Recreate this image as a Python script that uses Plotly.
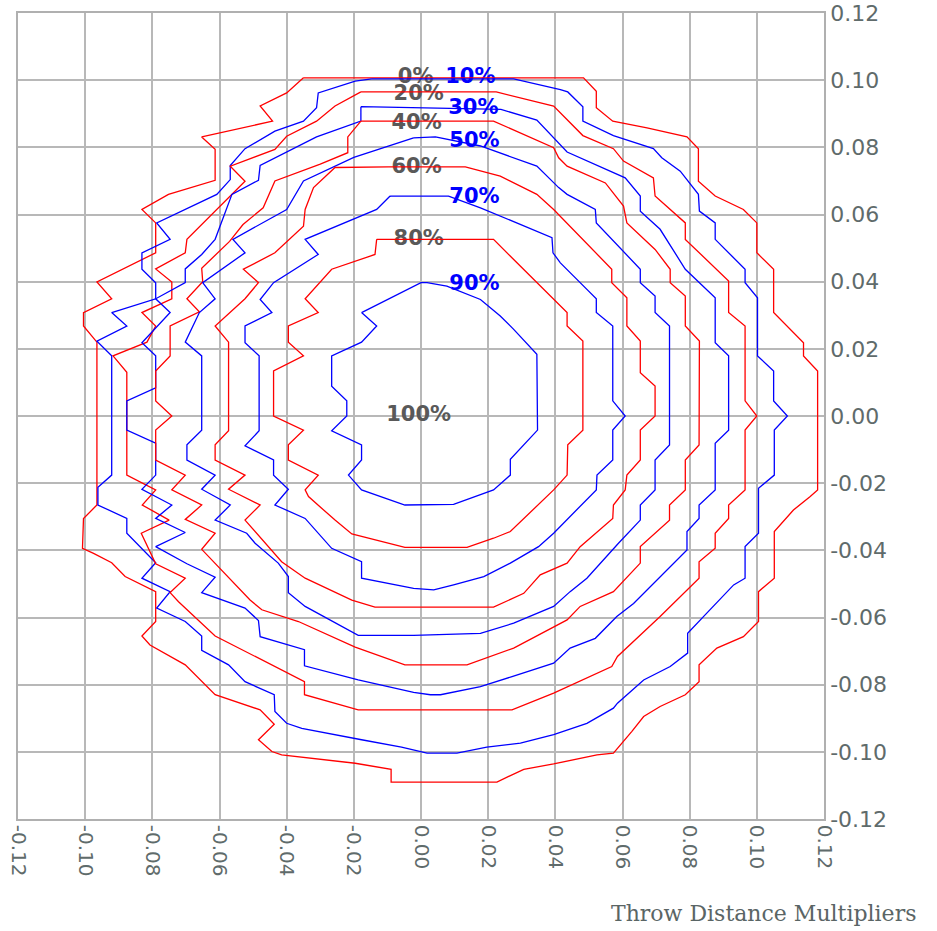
import plotly.graph_objects as go

# ---- contour polylines (data units) ----
c00 = [(-0.0350,0.1007),(0.0484,0.1007),(0.0522,0.0967),(0.0522,0.0918),(0.0571,0.0878),(0.0673,0.0858),(0.0792,0.0831),(0.0826,0.0796),(0.0826,0.0699),(0.0876,0.0655),(0.0960,0.0615),(0.1000,0.0575),(0.1000,0.0486),(0.1050,0.0437),(0.1050,0.0308),(0.1139,0.0218),(0.1139,0.0179),(0.1181,0.0134),(0.1181,-0.0220),(0.1159,-0.0240),(0.1109,-0.0280),(0.1052,-0.0344),(0.1052,-0.0483),(0.1005,-0.0523),(0.1005,-0.0612),(0.0960,-0.0657),(0.0881,-0.0691),(0.0828,-0.0741),(0.0828,-0.0791),(0.0787,-0.0830),(0.0712,-0.0865),(0.0663,-0.0895),(0.0628,-0.0939),(0.0573,-0.1004),(0.0524,-0.1009),(0.0395,-0.1036),(0.0306,-0.1052),(0.0226,-0.1090),(-0.0089,-0.1090),(-0.0089,-0.1052),(-0.0196,-0.1034),(-0.0415,-0.1009),(-0.0444,-0.0999),(-0.0484,-0.0964),(-0.0437,-0.0918),(-0.0479,-0.0875),(-0.0613,-0.0830),(-0.0702,-0.0741),(-0.0807,-0.0682),(-0.0831,-0.0655),(-0.0790,-0.0612),(-0.0790,-0.0523),(-0.0881,-0.0478),(-0.0901,-0.0458),(-0.0921,-0.0437),(-0.0975,-0.0409),(-0.1008,-0.0394),(-0.1005,-0.0305),(-0.0965,-0.0265),(-0.0965,0.0220),(-0.1005,0.0268),(-0.1005,0.0308),(-0.0921,0.0349),(-0.0965,0.0399),(-0.0790,0.0486),(-0.0790,0.0575),(-0.0831,0.0615),(-0.0752,0.0660),(-0.0613,0.0702),(-0.0613,0.0794),(-0.0653,0.0831),(-0.0442,0.0878),(-0.0479,0.0923),(-0.0400,0.0962),(-0.0350,0.1007)]

c10 = [(-0.0147,0.1004),(0.0276,0.1004),(0.0415,0.0972),(0.0437,0.0965),(0.0482,0.0921),(0.0482,0.0878),(0.0573,0.0835),(0.0692,0.0796),(0.0717,0.0769),(0.0772,0.0729),(0.0826,0.0660),(0.0829,0.0610),(0.0876,0.0575),(0.0876,0.0526),(0.0965,0.0437),(0.0965,0.0397),(0.1002,0.0352),(0.1002,0.0179),(0.1050,0.0134),(0.1050,0.0045),(0.1091,0.0000),(0.1052,-0.0042),(0.1052,-0.0176),(0.1005,-0.0215),(0.1005,-0.0349),(0.0965,-0.0389),(0.0965,-0.0483),(0.0931,-0.0503),(0.0851,-0.0587),(0.0794,-0.0647),(0.0794,-0.0706),(0.0742,-0.0746),(0.0663,-0.0786),(0.0585,-0.0855),(0.0573,-0.0870),(0.0494,-0.0915),(0.0395,-0.0949),(0.0296,-0.0974),(0.0196,-0.0986),(0.0107,-0.1004),(0.0018,-0.1004),(-0.0058,-0.0986),(-0.0177,-0.0964),(-0.0355,-0.0930),(-0.0400,-0.0915),(-0.0435,-0.0880),(-0.0437,-0.0830),(-0.0524,-0.0791),(-0.0573,-0.0741),(-0.0653,-0.0698),(-0.0653,-0.0655),(-0.0702,-0.0612),(-0.0787,-0.0572),(-0.0747,-0.0523),(-0.0831,-0.0483),(-0.0790,-0.0437),(-0.0876,-0.0349),(-0.0876,-0.0305),(-0.0962,-0.0265),(-0.0962,-0.0212),(-0.0921,-0.0176),(-0.0921,0.0179),(-0.0965,0.0223),(-0.0876,0.0268),(-0.0921,0.0308),(-0.0790,0.0349),(-0.0790,0.0397),(-0.0831,0.0437),(-0.0831,0.0486),(-0.0747,0.0526),(-0.0787,0.0575),(-0.0608,0.0660),(-0.0568,0.0704),(-0.0568,0.0746),(-0.0524,0.0796),(-0.0435,0.0848),(-0.0350,0.0878),(-0.0311,0.0918),(-0.0306,0.0962),(-0.0196,0.0997),(-0.0147,0.1004)]

c20 = [(-0.0179,0.0965),(0.0224,0.0965),(0.0395,0.0923),(0.0435,0.0883),(0.0482,0.0835),(0.0573,0.0796),(0.0603,0.0759),(0.0692,0.0709),(0.0697,0.0655),(0.0787,0.0575),(0.0787,0.0526),(0.0916,0.0402),(0.0916,0.0308),(0.0965,0.0268),(0.0965,0.0045),(0.1000,0.0000),(0.0965,-0.0042),(0.0965,-0.0220),(0.0916,-0.0265),(0.0916,-0.0305),(0.0876,-0.0349),(0.0876,-0.0394),(0.0828,-0.0434),(0.0828,-0.0483),(0.0712,-0.0597),(0.0585,-0.0716),(0.0568,-0.0746),(0.0395,-0.0825),(0.0271,-0.0875),(-0.0187,-0.0875),(-0.0347,-0.0830),(-0.0347,-0.0791),(-0.0435,-0.0746),(-0.0613,-0.0655),(-0.0722,-0.0553),(-0.0747,-0.0526),(-0.0702,-0.0483),(-0.0790,-0.0440),(-0.0833,-0.0349),(-0.0750,-0.0310),(-0.0830,-0.0265),(-0.0790,-0.0220),(-0.0876,-0.0176),(-0.0876,0.0130),(-0.0917,0.0179),(-0.0816,0.0220),(-0.0790,0.0268),(-0.0831,0.0308),(-0.0742,0.0349),(-0.0742,0.0399),(-0.0790,0.0438),(-0.0702,0.0486),(-0.0697,0.0526),(-0.0608,0.0615),(-0.0524,0.0699),(-0.0568,0.0744),(-0.0435,0.0794),(-0.0400,0.0833),(-0.0311,0.0878),(-0.0256,0.0923),(-0.0179,0.0965)]

c30 = [(-0.0179,0.0921),(0.0238,0.0913),(0.0345,0.0881),(0.0435,0.0786),(0.0608,0.0709),(0.0653,0.0655),(0.0653,0.0610),(0.0712,0.0556),(0.0787,0.0437),(0.0876,0.0352),(0.0876,0.0218),(0.0916,0.0179),(0.0916,-0.0042),(0.0876,-0.0081),(0.0876,-0.0220),(0.0828,-0.0265),(0.0828,-0.0305),(0.0792,-0.0344),(0.0792,-0.0399),(0.0712,-0.0478),(0.0633,-0.0558),(0.0583,-0.0597),(0.0519,-0.0662),(0.0444,-0.0691),(0.0395,-0.0736),(0.0271,-0.0776),(0.0177,-0.0806),(0.0058,-0.0830),(0.0028,-0.0830),(-0.0022,-0.0823),(-0.0187,-0.0786),(-0.0347,-0.0744),(-0.0347,-0.0696),(-0.0479,-0.0657),(-0.0484,-0.0609),(-0.0524,-0.0572),(-0.0653,-0.0526),(-0.0613,-0.0480),(-0.0697,-0.0440),(-0.0790,-0.0389),(-0.0702,-0.0347),(-0.0790,-0.0305),(-0.0742,-0.0265),(-0.0831,-0.0218),(-0.0790,-0.0176),(-0.0790,-0.0081),(-0.0876,-0.0042),(-0.0876,0.0045),(-0.0790,0.0084),(-0.0790,0.0179),(-0.0831,0.0218),(-0.0747,0.0308),(-0.0790,0.0349),(-0.0702,0.0397),(-0.0702,0.0438),(-0.0653,0.0481),(-0.0613,0.0526),(-0.0563,0.0660),(-0.0484,0.0702),(-0.0479,0.0746),(-0.0311,0.0831),(-0.0179,0.0878),(-0.0179,0.0921)]

c40 = [(-0.0179,0.0878),(0.0216,0.0878),(0.0395,0.0799),(0.0410,0.0769),(0.0435,0.0744),(0.0549,0.0694),(0.0603,0.0625),(0.0613,0.0575),(0.0697,0.0496),(0.0742,0.0437),(0.0742,0.0397),(0.0787,0.0357),(0.0787,0.0268),(0.0829,0.0223),(0.0828,-0.0086),(0.0787,-0.0131),(0.0787,-0.0220),(0.0740,-0.0265),(0.0740,-0.0310),(0.0653,-0.0389),(0.0653,-0.0438),(0.0573,-0.0523),(0.0474,-0.0567),(0.0435,-0.0607),(0.0276,-0.0691),(0.0137,-0.0741),(-0.0048,-0.0741),(-0.0196,-0.0688),(-0.0365,-0.0612),(-0.0474,-0.0577),(-0.0509,-0.0548),(-0.0598,-0.0453),(-0.0653,-0.0397),(-0.0613,-0.0349),(-0.0702,-0.0308),(-0.0653,-0.0265),(-0.0742,-0.0220),(-0.0702,-0.0176),(-0.0790,-0.0131),(-0.0790,-0.0042),(-0.0742,0.0000),(-0.0790,0.0045),(-0.0790,0.0134),(-0.0747,0.0179),(-0.0747,0.0268),(-0.0660,0.0310),(-0.0697,0.0349),(-0.0650,0.0400),(-0.0653,0.0440),(-0.0570,0.0520),(-0.0530,0.0570),(-0.0470,0.0620),(-0.0435,0.0700),(-0.0300,0.0750),(-0.0218,0.0784),(-0.0218,0.0831),(-0.0179,0.0878)]

c50 = [(-0.0022,0.0828),(0.0043,0.0831),(0.0177,0.0804),(0.0345,0.0744),(0.0410,0.0680),(0.0435,0.0660),(0.0519,0.0615),(0.0522,0.0575),(0.0653,0.0437),(0.0653,0.0397),(0.0697,0.0357),(0.0697,0.0308),(0.0740,0.0268),(0.0740,-0.0086),(0.0697,-0.0131),(0.0697,-0.0220),(0.0653,-0.0265),(0.0653,-0.0310),(0.0588,-0.0379),(0.0494,-0.0483),(0.0444,-0.0523),(0.0395,-0.0567),(0.0276,-0.0617),(0.0177,-0.0647),(-0.0022,-0.0653),(-0.0187,-0.0653),(-0.0345,-0.0567),(-0.0395,-0.0526),(-0.0395,-0.0478),(-0.0425,-0.0438),(-0.0494,-0.0379),(-0.0519,-0.0349),(-0.0613,-0.0310),(-0.0568,-0.0265),(-0.0653,-0.0218),(-0.0613,-0.0176),(-0.0697,-0.0131),(-0.0697,-0.0086),(-0.0653,-0.0042),(-0.0653,0.0179),(-0.0702,0.0220),(-0.0660,0.0308),(-0.0613,0.0349),(-0.0650,0.0397),(-0.0524,0.0486),(-0.0560,0.0526),(-0.0400,0.0615),(-0.0350,0.0700),(-0.0200,0.0770),(-0.0022,0.0828)]

c60 = [(-0.0097,0.0742),(0.0132,0.0742),(0.0236,0.0714),(0.0345,0.0660),(0.0395,0.0615),(0.0568,0.0437),(0.0568,0.0397),(0.0613,0.0352),(0.0613,0.0268),(0.0653,0.0223),(0.0653,0.0129),(0.0697,0.0089),(0.0697,0.0000),(0.0653,-0.0042),(0.0653,-0.0131),(0.0613,-0.0176),(0.0608,-0.0220),(0.0573,-0.0265),(0.0571,-0.0305),(0.0474,-0.0389),(0.0435,-0.0438),(0.0355,-0.0473),(0.0306,-0.0528),(0.0216,-0.0569),(-0.0137,-0.0569),(-0.0206,-0.0548),(-0.0345,-0.0483),(-0.0415,-0.0434),(-0.0524,-0.0310),(-0.0479,-0.0265),(-0.0573,-0.0218),(-0.0524,-0.0176),(-0.0613,-0.0131),(-0.0613,-0.0086),(-0.0573,-0.0044),(-0.0573,0.0220),(-0.0613,0.0268),(-0.0524,0.0349),(-0.0484,0.0397),(-0.0529,0.0437),(-0.0435,0.0486),(-0.0350,0.0565),(-0.0345,0.0615),(-0.0320,0.0680),(-0.0256,0.0740),(-0.0097,0.0742)]

c70 = [(-0.0092,0.0655),(0.0082,0.0655),(0.0177,0.0620),(0.0390,0.0531),(0.0393,0.0486),(0.0415,0.0456),(0.0494,0.0377),(0.0522,0.0349),(0.0522,0.0308),(0.0571,0.0268),(0.0571,0.0045),(0.0608,0.0000),(0.0571,-0.0042),(0.0571,-0.0131),(0.0524,-0.0176),(0.0522,-0.0220),(0.0395,-0.0349),(0.0350,-0.0389),(0.0266,-0.0438),(0.0187,-0.0478),(0.0097,-0.0503),(0.0038,-0.0518),(-0.0022,-0.0513),(-0.0177,-0.0483),(-0.0177,-0.0434),(-0.0266,-0.0394),(-0.0345,-0.0305),(-0.0435,-0.0265),(-0.0395,-0.0218),(-0.0439,-0.0176),(-0.0439,-0.0131),(-0.0524,-0.0089),(-0.0482,-0.0044),(-0.0482,0.0179),(-0.0524,0.0218),(-0.0524,0.0268),(-0.0444,0.0308),(-0.0479,0.0347),(-0.0439,0.0397),(-0.0306,0.0481),(-0.0345,0.0526),(-0.0132,0.0615),(-0.0092,0.0655)]

c80 = [(-0.0132,0.0526),(0.0216,0.0526),(0.0276,0.0466),(0.0435,0.0308),(0.0435,0.0268),(0.0482,0.0223),(0.0482,-0.0042),(0.0437,-0.0086),(0.0435,-0.0176),(0.0395,-0.0220),(0.0266,-0.0344),(0.0216,-0.0364),(0.0137,-0.0391),(-0.0048,-0.0391),(-0.0206,-0.0351),(-0.0256,-0.0310),(-0.0335,-0.0240),(-0.0345,-0.0220),(-0.0306,-0.0176),(-0.0395,-0.0131),(-0.0395,-0.0086),(-0.0350,-0.0042),(-0.0439,0.0000),(-0.0439,0.0134),(-0.0350,0.0179),(-0.0395,0.0220),(-0.0395,0.0268),(-0.0306,0.0308),(-0.0345,0.0349),(-0.0266,0.0437),(-0.0137,0.0481),(-0.0132,0.0526)]

c90 = [(-0.0177,0.0308),(0.0000,0.0397),(0.0018,0.0397),(0.0077,0.0387),(0.0177,0.0347),(0.0236,0.0298),(0.0276,0.0258),(0.0345,0.0184),(0.0347,-0.0042),(0.0320,-0.0071),(0.0266,-0.0129),(0.0266,-0.0176),(0.0216,-0.0220),(0.0097,-0.0263),(-0.0048,-0.0265),(-0.0177,-0.0220),(-0.0216,-0.0176),(-0.0177,-0.0131),(-0.0177,-0.0086),(-0.0266,-0.0044),(-0.0221,0.0000),(-0.0221,0.0045),(-0.0266,0.0089),(-0.0266,0.0179),(-0.0177,0.0220),(-0.0132,0.0268),(-0.0177,0.0308)]

contours = [c00, c10, c20, c30, c40, c50, c60, c70, c80, c90]
line_colors = ["#ff0000", "#0000ff"] * 5

# ---- contour labels ----
label_text = ["0%", "10%", "20%", "30%", "40%", "50%", "60%", "70%", "80%", "90%", "100%"]
label_x = [-0.0016, 0.0147, -0.0007, 0.0156, -0.0013, 0.0159, -0.0013, 0.0159, -0.0007, 0.0159, -0.0007]
label_y = [0.1008, 0.1008, 0.0958, 0.0914, 0.0871, 0.0818, 0.0740, 0.0651, 0.0526, 0.0392, 0.0000]
label_colors = ["#595959", "#0000ff"] * 5 + ["#595959"]

tick_vals = [-0.12, -0.10, -0.08, -0.06, -0.04, -0.02, 0.0, 0.02, 0.04, 0.06, 0.08, 0.10, 0.12]
tick_text = ["%.2f" % v for v in tick_vals]

fig = go.Figure()

# labels first so the contour lines are drawn over them
fig.add_trace(go.Scatter(x=label_x, y=label_y, mode="text", text=label_text,
                         textposition="middle center",
                         textfont=dict(family="DejaVu Sans", size=21, color=label_colors, weight="bold"),
                         hoverinfo="skip", showlegend=False))

for pts, col in zip(contours, line_colors):
    xs = [p[0] for p in pts]
    ys = [p[1] for p in pts]
    fig.add_trace(go.Scatter(x=xs, y=ys, mode="lines", line=dict(color=col, width=1.3),
                             hoverinfo="skip", showlegend=False))

fig.add_annotation(x=1.1166, y=-0.1175, xref="paper", yref="paper", text="Throw Distance Multipliers",
                   showarrow=False, xanchor="right", yanchor="middle",
                   font=dict(family="DejaVu Serif", size=22, color="#5a6565"))

axis_common = dict(range=[-0.12, 0.12], tickvals=tick_vals, ticktext=tick_text, automargin=False,
                   showgrid=True, gridcolor="#b8b8b8", gridwidth=1.5, zeroline=False,
                   showline=True, linecolor="#b0b0b0", linewidth=1.5, mirror=True, ticks="",
                   ticklabeloverflow="allow")

fig.update_layout(
    width=937, height=931,
    margin=dict(l=18, r=113, t=13, b=112),
    paper_bgcolor="white", plot_bgcolor="white",
    xaxis=dict(**axis_common, tickangle=90,
               tickfont=dict(family="DejaVu Sans", size=20, color="#5f6b6b")),
    yaxis=dict(**axis_common, side="right",
               tickfont=dict(family="DejaVu Sans", size=22, color="#5f6b6b")),
)

fig.write_html("out.html", config={"displayModeBar": False},
               post_script="document.body.style.margin='0';document.body.style.overflow='hidden';")
